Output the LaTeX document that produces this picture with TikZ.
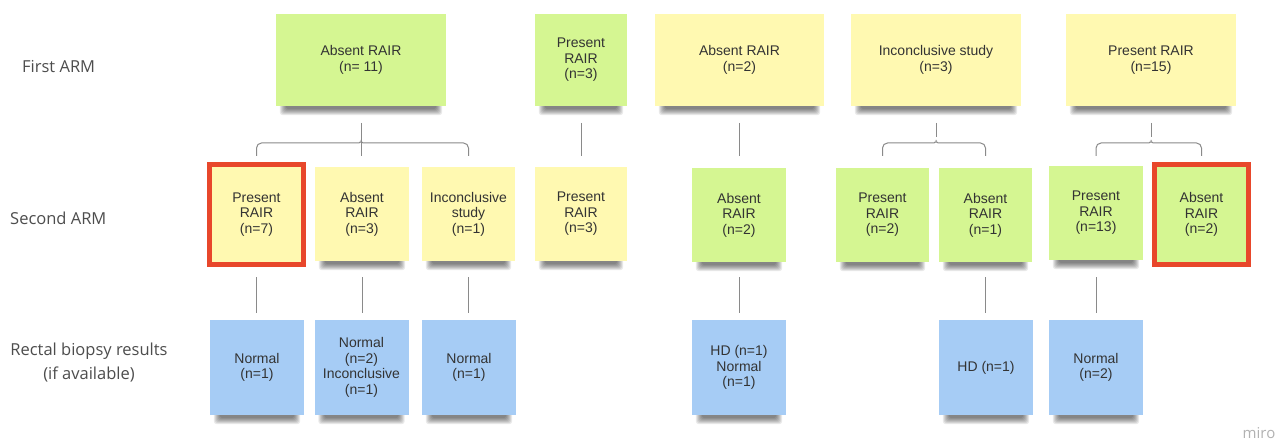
\documentclass[tikz,border=0pt]{standalone}
\usepackage{fontspec}
\setmainfont{Liberation Sans}
\newfontfamily\labelfont{Open Sans}
\usetikzlibrary{calc,backgrounds}
\definecolor{notegreen}{HTML}{D5F692}
\definecolor{noteyellow}{HTML}{FFF9B1}
\definecolor{noteblue}{HTML}{A6CCF5}
\definecolor{notered}{HTML}{E8472B}
\definecolor{linegray}{HTML}{8A8A8A}
\definecolor{txt}{HTML}{333333}
\definecolor{lbl}{HTML}{4D4D4D}
\pgfdeclarelayer{paper}
\pgfsetlayers{paper,background,main}
\newcommand\noteshadow[1]{%
  \foreach \i in {0,...,6}{%
    \fill[black, opacity=0.085, rounded corners=3pt]
      ($(#1.south west)+(4+\i,-4)$) rectangle ($(#1.south east)+(-4-\i,9-\i)$);}}
\begin{document}
\begin{tikzpicture}[x=1pt,y=-1pt,
  sticky/.style={inner sep=0pt, align=center, text=txt,
    font=\fontsize{14}{15.5}\selectfont},
  gnote/.style={sticky, fill=notegreen},
  ynote/.style={sticky, fill=noteyellow},
  bnote/.style={sticky, fill=noteblue},
  rnote/.style={sticky, fill=noteyellow, draw=notered, line width=5pt},
  rgnote/.style={rnote, fill=notegreen},
  rowlabel/.style={text=lbl, font=\labelfont\fontsize{16.5}{24}\selectfont, inner sep=0pt},
  conn/.style={draw=linegray, line width=1pt},
  top/.style={minimum width=#1, minimum height=92pt},
  mid/.style={minimum width=#1, minimum height=94pt},
  bot/.style={minimum width=94pt, minimum height=95pt}
]
\begin{pgfonlayer}{paper}
\fill[white] (0,0) rectangle (1280,441);
\end{pgfonlayer}
\useasboundingbox (0,0) rectangle (1280,441);

% row labels
\node[rowlabel, anchor=west] (lab1) at (22,67) {First ARM};
\node[rowlabel, anchor=west] (lab2) at (10,218) {Second ARM};
\node[rowlabel, align=center] (lab3) at (89,363) {Rectal biopsy results\\(if available)};

% first row
\node[gnote, top=170pt] (A1) at (361,60) {Absent RAIR\\(n= 11)};
\node[gnote, top=92pt]  (A2) at (581,60) {Present\\RAIR\\(n=3)};
\node[ynote, top=169pt] (A3) at (739.5,60) {Absent RAIR\\(n=2)};
\node[ynote, top=170pt] (A4) at (936,60) {Inconclusive study\\(n=3)};
\node[ynote, top=170pt] (A5) at (1151,60) {Present RAIR\\(n=15)};

% second row
\node[rnote, minimum width=94pt, minimum height=100pt] (B1) at (256.5,214.5) {Present\\RAIR\\(n=7)};
\node[ynote, mid=94pt] (B2) at (362,214) {Absent\\RAIR\\(n=3)};
\node[ynote, mid=93pt] (B3) at (468.5,214) {Inconclusive\\study\\(n=1)};
\node[ynote, mid=92pt] (B4) at (581,214) {Present\\RAIR\\(n=3)};
\node[gnote, mid=94pt] (B5) at (739,215) {Absent\\RAIR\\(n=2)};
\node[gnote, mid=93pt] (B6) at (882.5,215) {Present\\RAIR\\(n=2)};
\node[gnote, mid=93pt] (B7) at (985.5,215) {Absent\\RAIR\\(n=1)};
\node[gnote, mid=94pt] (B8) at (1096,213) {Present\\RAIR\\(n=13)};
\node[rgnote, minimum width=94pt, minimum height=100pt] (B9) at (1201.5,214.5) {Absent\\RAIR\\(n=2)};

% third row
\node[bnote, bot] (C1) at (257,367.5) {Normal\\(n=1)};
\node[bnote, bot] (C2) at (361.5,367.5) {Normal\\(n=2)\\Inconclusive\\(n=1)};
\node[bnote, bot] (C3) at (469,367.5) {Normal\\(n=1)};
\node[bnote, bot] (C4) at (739,367.5) {HD (n=1)\\Normal\\(n=1)};
\node[bnote, bot] (C5) at (986,367.5) {HD (n=1)};
\node[bnote, bot] (C6) at (1096,367.5) {Normal\\(n=2)};

\node[text=black!30, font=\labelfont\fontsize{15}{18}\selectfont, inner sep=0pt] (miro) at (1259,433) {miro};

% shadows under the sticky notes
\begin{pgfonlayer}{background}
\foreach \n in {A1,A2,A3,A4,A5,B2,B3,B4,B5,B6,B7,B8,C1,C2,C3,C4,C5,C6}{\noteshadow{\n}}
\end{pgfonlayer}

% helper heights
\coordinate (stub) at (0,123);
\coordinate (tip) at (0,137);
\coordinate (bar) at (0,143);
\coordinate (bt) at (0,156);
\coordinate (low) at (0,277);
\coordinate (lowend) at (0,313);

% braces
\newcommand\mybrace[3]{%
  \draw[conn] (#1 |- stub) -- (#1 |- tip);
  \draw[conn, rounded corners=5pt] (#2 |- bt) -- (#2 |- bar) -- ($(#1 |- bar)+(-7,0)$)
    .. controls ($(#1 |- bar)+(-2,0)$) and ($(#1 |- bar)+(0,-2)$) .. (#1 |- tip)
    .. controls ($(#1 |- bar)+(0,-2)$) and ($(#1 |- bar)+(2,0)$) .. ($(#1 |- bar)+(7,0)$)
    -- (#3 |- bar) -- (#3 |- bt);}
\mybrace{A1}{B1}{B3}
\draw[conn] (A1 |- tip) -- (A1 |- bt);
\mybrace{A4}{B6}{B7}
\mybrace{A5}{B8}{B9}
\draw[conn] (A2 |- stub) -- (A2 |- bt);
\draw[conn] (A3 |- stub) -- (A3 |- bt);

% lower connectors
\foreach \b in {B1,B2,B3,B5,B7,B8}{
  \draw[conn] (\b |- low) -- (\b |- lowend);
}
\end{tikzpicture}
\end{document}
